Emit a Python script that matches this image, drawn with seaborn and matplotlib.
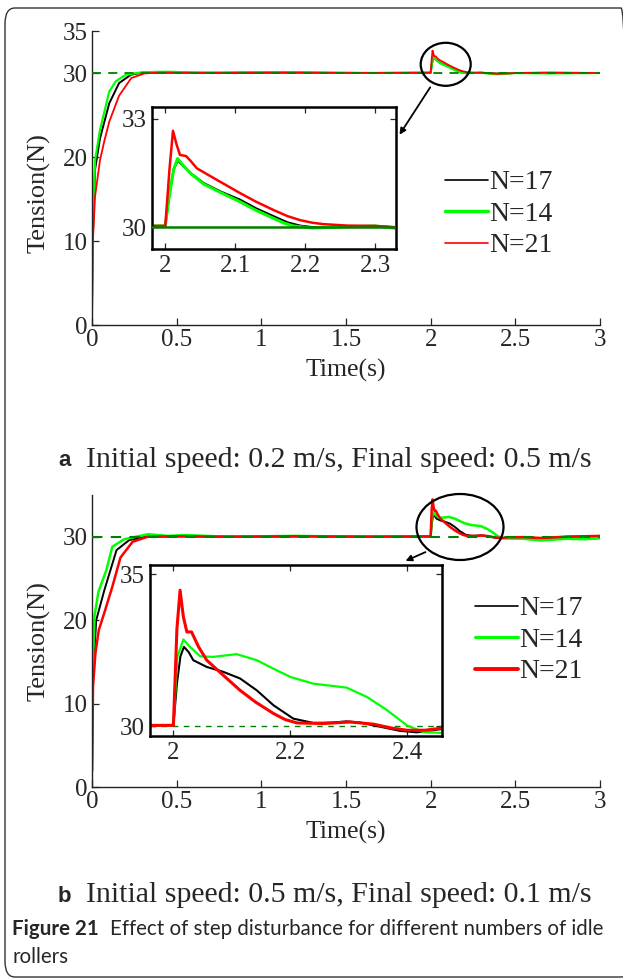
import numpy as np
import pandas as pd
import matplotlib
matplotlib.use("Agg")
import matplotlib.pyplot as plt
import seaborn as sns
from matplotlib.patches import Ellipse, FancyArrowPatch, FancyBboxPatch
from matplotlib.lines import Line2D

# ---------------- data ----------------
labels = ["N=17", "N=14", "N=21"]
colors = ["#000000", "#00ff00", "#ff0000"]

# panel a
a17_t = [0, 0.004, 0.018, 0.047, 0.102, 0.16, 0.23, 0.3, 0.5, 0.8, 1.2, 1.6, 1.99, 2.0, 2.006, 2.012, 2.018, 2.025, 2.036, 2.055, 2.08, 2.107, 2.13, 2.155, 2.175, 2.193, 2.21, 2.25, 2.3, 2.4, 2.5, 2.7, 3.0]
a17_v = [1.8, 10.0, 18.5, 22.2, 26.4, 28.8, 29.8, 30.05, 30.05, 30.0, 30.05, 30.0, 30.03, 30.03, 30.9, 31.6, 31.84, 31.7, 31.5, 31.22, 30.98, 30.76, 30.52, 30.3, 30.13, 30.04, 30.0, 30.0, 30.03, 29.92, 30.0, 30.03, 30.0]
a14_t = [0, 0.004, 0.018, 0.047, 0.102, 0.14, 0.2, 0.3, 0.45, 0.6, 0.9, 1.3, 1.7, 1.99, 2.0, 2.006, 2.012, 2.0176, 2.025, 2.036, 2.055, 2.08, 2.107, 2.13, 2.155, 2.17, 2.183, 2.21, 2.25, 2.3, 2.38, 2.42, 2.5, 2.7, 3.0]
a14_v = [1.8, 10.5, 19.6, 23.2, 27.8, 29.0, 29.8, 30.1, 30.15, 30.05, 30.1, 30.05, 30.0, 30.03, 30.03, 30.9, 31.6, 31.9, 31.72, 31.49, 31.19, 30.95, 30.7, 30.46, 30.24, 30.11, 30.03, 29.97, 30.0, 30.03, 29.85, 29.9, 30.0, 29.95, 30.0]
a21_t = [0, 0.004, 0.018, 0.047, 0.074, 0.102, 0.16, 0.232, 0.31, 0.4, 0.7, 1.1, 1.5, 1.99, 2.0, 2.006, 2.011, 2.016, 2.021, 2.0296, 2.036, 2.045, 2.07, 2.107, 2.13, 2.155, 2.175, 2.193, 2.21, 2.226, 2.26, 2.3, 2.4, 2.5, 2.7, 3.0]
a21_v = [1.8, 9.5, 15.3, 19.6, 22.0, 24.2, 27.3, 29.4, 29.95, 30.05, 30.0, 30.05, 30.0, 30.03, 30.03, 31.6, 32.67, 32.3, 32.0, 31.97, 31.84, 31.63, 31.35, 30.94, 30.7, 30.47, 30.3, 30.19, 30.12, 30.08, 30.04, 30.03, 29.9, 30.0, 30.03, 30.0]

# panel b
b17_t = [0, 0.004, 0.025, 0.073, 0.145, 0.22, 0.32, 0.5, 0.9, 1.3, 1.7, 1.99, 2.0, 2.006, 2.012, 2.018, 2.026, 2.034, 2.057, 2.085, 2.114, 2.1425, 2.171, 2.205, 2.239, 2.27, 2.296, 2.32, 2.342, 2.387, 2.416, 2.459, 2.55, 2.65, 2.8, 3.0]
b17_v = [1.9, 13.0, 20.0, 23.6, 28.4, 29.6, 30.0, 30.05, 30.0, 30.05, 30.0, 30.03, 30.03, 31.4, 32.3, 32.61, 32.44, 32.17, 31.95, 31.79, 31.57, 31.18, 30.69, 30.25, 30.11, 30.12, 30.16, 30.12, 30.03, 29.85, 29.8, 29.91, 29.95, 29.8, 30.0, 30.05]
b14_t = [0, 0.004, 0.015, 0.038, 0.085, 0.12, 0.19, 0.33, 0.45, 0.55, 0.8, 1.2, 1.6, 1.99, 2.0, 2.0068, 2.017, 2.0285, 2.0456, 2.068, 2.09, 2.108, 2.1425, 2.17, 2.2, 2.239, 2.27, 2.296, 2.331, 2.365, 2.399, 2.427, 2.459, 2.55, 2.65, 2.8, 2.9, 3.0]
b14_v = [1.9, 14.0, 20.5, 23.4, 26.0, 28.8, 29.7, 30.3, 30.1, 30.2, 30.0, 30.1, 30.0, 30.03, 30.03, 32.28, 32.85, 32.61, 32.30, 32.28, 32.33, 32.37, 32.17, 31.9, 31.62, 31.4, 31.33, 31.27, 30.96, 30.53, 30.03, 29.81, 29.78, 29.75, 29.55, 29.75, 29.7, 29.8]
b21_t = [0, 0.006, 0.02, 0.04, 0.073, 0.12, 0.168, 0.24, 0.33, 0.5, 0.8, 1.2, 1.6, 1.99, 2.0, 2.006, 2.0114, 2.017, 2.023, 2.031, 2.043, 2.057, 2.085, 2.114, 2.14, 2.171, 2.191, 2.211, 2.256, 2.302, 2.342, 2.37, 2.399, 2.43, 2.459, 2.55, 2.65, 2.8, 3.0]
b21_v = [1.9, 12.0, 16.0, 18.8, 20.9, 24.0, 27.5, 29.4, 30.0, 30.05, 30.0, 30.05, 30.0, 30.03, 30.03, 33.2, 34.47, 33.6, 33.1, 33.1, 32.61, 32.17, 31.68, 31.18, 30.8, 30.42, 30.22, 30.11, 30.09, 30.14, 30.07, 29.95, 29.87, 29.87, 29.94, 29.95, 29.85, 30.0, 30.1]

ref_level = 30
a_yticks = [0, 10, 20, 30, 35]
b_yticks = [0, 10, 20, 30]
x_ticks = [0, 0.5, 1, 1.5, 2, 2.5, 3]
x_ticklabels = ["0", "0.5", "1", "1.5", "2", "2.5", "3"]
a_in_xticks = [2, 2.1, 2.2, 2.3]
a_in_yticks = [30, 33]
b_in_xticks = [2, 2.2, 2.4]
b_in_yticks = [30, 35]

caption_a = "Initial speed: 0.2 m/s, Final speed: 0.5 m/s"
caption_b = "Initial speed: 0.5 m/s, Final speed: 0.1 m/s"
fig_caption = "Effect of step disturbance for different numbers of idle"
fig_caption2 = "rollers"

# ---------------- style ----------------
sns.set_style("white")
plt.rcParams["font.family"] = ["Liberation Serif", "DejaVu Serif"]
plt.rcParams["mathtext.fontset"] = "stix"

W, H = 623, 980
fig = plt.figure(figsize=(W / 100, H / 100), dpi=100)
CAP_FONT = ["Lato", "DejaVu Sans"]


def rect(x0, y0, x1, y1):
    return [x0 / W, 1 - y1 / H, (x1 - x0) / W, (y1 - y0) / H]


def make_df(ts, vs):
    rows = []
    for lab, t, v in zip(labels, ts, vs):
        for ti, vi in zip(t, v):
            rows.append((lab, ti, vi))
    return pd.DataFrame(rows, columns=["series", "t", "v"])


df_a = make_df([a17_t, a14_t, a21_t], [a17_v, a14_v, a21_v])
df_b = make_df([b17_t, b14_t, b21_t], [b17_v, b14_v, b21_v])


def draw_series(ax, df, widths):
    for lab, col, lw in zip(labels, colors, widths):
        sub = df[df["series"] == lab]
        sns.lineplot(data=sub, x="t", y="v", ax=ax, color=col, lw=lw,
                     sort=False, estimator=None, legend=False)
    ax.set_xlabel("")
    ax.set_ylabel("")


def style_main(ax, yticks):
    ax.set_xlim(0, 3)
    ax.set_ylim(0, 35)
    ax.set_xticks(x_ticks)
    ax.set_xticklabels(x_ticklabels)
    ax.set_yticks(yticks)
    for s in ["top", "right"]:
        ax.spines[s].set_visible(False)
    for s in ["left", "bottom"]:
        ax.spines[s].set_color("#222222")
        ax.spines[s].set_linewidth(1.0)
    ax.tick_params(direction="in", length=5, width=0.9, labelsize=18, pad=3,
                   left=True, bottom=True)
    ax.set_xlabel("Time(s)", fontsize=18.5, labelpad=-4)
    ax.set_ylabel("Tension(N)", fontsize=19, labelpad=2)


def style_inset(ax, xlim, ylim, xt, yt):
    ax.set_xlim(*xlim)
    ax.set_ylim(*ylim)
    ax.set_xticks(xt)
    ax.set_yticks(yt)
    ax.set_xticklabels([f"{v:g}" for v in xt])
    ax.set_yticklabels([f"{v:g}" for v in yt])
    for s in ax.spines.values():
        s.set_visible(True)
        s.set_color("#000000")
        s.set_linewidth(1.8)
    ax.tick_params(direction="in", length=4, width=0.9, labelsize=18, pad=4,
                   top=True, right=True, left=True, bottom=True)
    ax.set_xlabel("")
    ax.set_ylabel("")


# ---------------- panel a ----------------
ax_a = fig.add_axes(rect(92, 31, 600, 325))
draw_series(ax_a, df_a, [1.4, 1.6, 1.3])
ax_a.axhline(ref_level, color="#008000", ls=(0, (5, 4)), lw=1.3, zorder=5)
style_main(ax_a, a_yticks)
ax_a.xaxis.set_label_coords(0.5, -0.115)
ax_a.yaxis.set_label_coords(-0.082, 0.45)

ax_ai = fig.add_axes(rect(152, 107, 396, 249))
ax_ai.set_facecolor("white")
draw_series(ax_ai, df_a, [1.4, 2.2, 1.8])
ax_ai.axhline(ref_level, color="#008000", lw=1.8, zorder=5)
style_inset(ax_ai, (1.981, 2.33), (29.39, 33.33), a_in_xticks, a_in_yticks)

handles_a = [Line2D([], [], color=colors[0], lw=1.2),
             Line2D([], [], color=colors[1], lw=2.5),
             Line2D([], [], color=colors[2], lw=1.2)]
ax_a.legend(handles_a, labels, loc="upper left", bbox_to_anchor=(431 / W, 1 - 156 / H),
            bbox_transform=fig.transFigure, frameon=False, fontsize=20,
            handlelength=1.55, handletextpad=0.05, labelspacing=0.22, borderpad=0)

fig.add_artist(Ellipse((445.7 / W, 1 - 64.3 / H), 50 / W, 43 / H, transform=fig.transFigure,
                       fill=False, ec="black", lw=1.6))
fig.add_artist(FancyArrowPatch((431.7 / W, 1 - 85 / H), (398 / W, 1 - 137 / H),
                               transform=fig.transFigure, arrowstyle="-|>",
                               mutation_scale=9, color="black", lw=1.3))

# ---------------- panel b ----------------
ax_b = fig.add_axes(rect(92, 495, 600, 787))
draw_series(ax_b, df_b, [1.4, 1.8, 1.8])
ax_b.axhline(ref_level, color="#008000", ls=(0, (5, 4)), lw=1.5, zorder=5)
style_main(ax_b, b_yticks)
ax_b.xaxis.set_label_coords(0.5, -0.115)
ax_b.yaxis.set_label_coords(-0.082, 0.50)

ax_bi = fig.add_axes(rect(150, 565, 442, 736))
ax_bi.set_facecolor("white")
draw_series(ax_bi, df_b, [1.5, 1.6, 2.2])
ax_bi.axhline(ref_level, color="#008000", ls=(0, (4, 4)), lw=1.0, zorder=1)
style_inset(ax_bi, (1.96, 2.459), (29.68, 35.3), b_in_xticks, b_in_yticks)

handles_b = [Line2D([], [], color=colors[0], lw=1.2),
             Line2D([], [], color=colors[1], lw=2.2),
             Line2D([], [], color=colors[2], lw=2.8)]
ax_b.legend(handles_b, labels, loc="upper left", bbox_to_anchor=(461 / W, 1 - 582 / H),
            bbox_transform=fig.transFigure, frameon=False, fontsize=20,
            handlelength=1.55, handletextpad=0.05, labelspacing=0.22, borderpad=0)

fig.add_artist(Ellipse((460 / W, 1 - 527 / H), 87 / W, 66 / H, transform=fig.transFigure,
                       fill=False, ec="black", lw=1.6))
fig.add_artist(FancyArrowPatch((428 / W, 1 - 551 / H), (403 / W, 1 - 562 / H),
                               transform=fig.transFigure, arrowstyle="-|>",
                               mutation_scale=9, color="black", lw=1.3))

# ---------------- captions ----------------
fig.text(58 / W, 1 - 461 / H, "a", fontsize=16, fontweight="bold",
         family=["Liberation Sans", "DejaVu Sans"], va="center", ha="left")
fig.text(86 / W, 1 - 460 / H, caption_a, fontsize=21.5, va="center", ha="left")
fig.text(58 / W, 1 - 896 / H, "b", fontsize=16, fontweight="bold",
         family=["Liberation Sans", "DejaVu Sans"], va="center", ha="left")
fig.text(86 / W, 1 - 895 / H, caption_b, fontsize=21.5, va="center", ha="left")

fig.text(12 / W, 1 - 929 / H, "Figure 21", fontsize=14.8, fontweight="bold",
         family=CAP_FONT, va="center", ha="left")
fig.text(110 / W, 1 - 929 / H, fig_caption, fontsize=14.8,
         family=CAP_FONT, va="center", ha="left")
fig.text(12 / W, 1 - 957 / H, fig_caption2, fontsize=14.8,
         family=CAP_FONT, va="center", ha="left")

# border
fig.add_artist(FancyBboxPatch((5 / W, 1 - 977 / H), 626 / W, 969 / H,
                              boxstyle="round,pad=0,rounding_size=0.016",
                              transform=fig.transFigure, fill=False,
                              ec="#333333", lw=1.0))

fig.savefig("out.png", dpi=100)
